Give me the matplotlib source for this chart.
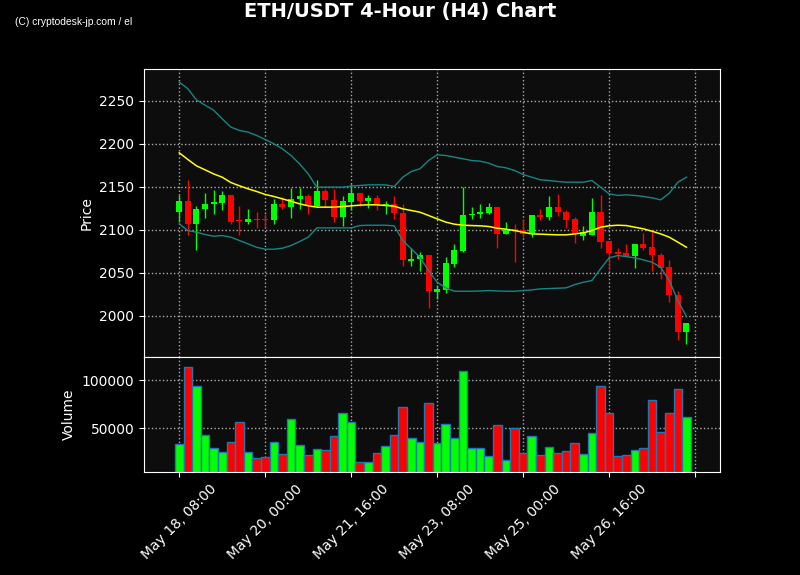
import numpy as np
import matplotlib
matplotlib.use('Agg')
import matplotlib.pyplot as plt

# candle data (4h candles, May 18 08:00 -> May 28 04:00)
opens = [2120.5, 2134.0, 2106.6, 2124.0, 2129.5, 2131.0, 2141.0, 2111.0, 2109.7, 2113.0,
         2112.0, 2111.2, 2130.0, 2127.0, 2135.7, 2138.8, 2128.3, 2145.7, 2135.0, 2114.7,
         2131.8, 2143.4, 2133.0, 2137.6, 2128.7, 2130.6, 2120.0, 2064.3, 2066.0, 2071.3,
         2027.5, 2030.6, 2060.0, 2076.0, 2117.0, 2118.2, 2120.0, 2126.0, 2095.3, 2101.0,
         2100.0, 2095.3, 2116.7, 2114.7, 2127.1, 2121.3, 2113.2, 2092.3, 2094.6, 2121.3,
         2087.6, 2074.8, 2073.6, 2069.4, 2084.1, 2080.6, 2071.3, 2057.4, 2024.8, 1981.0]
closes = [2134.1, 2106.6, 2124.8, 2130.6, 2131.8, 2141.0, 2109.7, 2110.5, 2113.0, 2111.2,
          2111.3, 2129.5, 2127.0, 2136.4, 2138.8, 2129.0, 2145.7, 2134.5, 2114.7, 2133.0,
          2143.4, 2133.0, 2137.6, 2129.5, 2130.6, 2119.4, 2064.7, 2066.7, 2071.3, 2028.7,
          2031.8, 2061.2, 2077.0, 2117.8, 2119.0, 2121.3, 2126.0, 2095.3, 2100.4, 2100.4,
          2095.7, 2116.7, 2114.7, 2127.1, 2120.5, 2112.0, 2095.3, 2097.3, 2121.3, 2086.4,
          2073.6, 2072.5, 2069.4, 2084.1, 2079.5, 2070.5, 2056.2, 2024.0, 1981.0, 1992.2]
highs = [2140.0, 2157.4, 2128.0, 2143.0, 2146.0, 2145.3, 2141.0, 2128.0, 2124.4, 2121.0,
         2118.6, 2136.0, 2138.0, 2148.4, 2148.4, 2142.0, 2157.4, 2147.7, 2147.7, 2138.8,
         2153.5, 2143.4, 2140.7, 2140.7, 2134.1, 2138.8, 2130.0, 2078.7, 2074.0, 2071.3,
         2036.0, 2068.2, 2083.7, 2149.6, 2127.0, 2130.0, 2131.4, 2127.1, 2109.3, 2106.6,
         2113.2, 2117.4, 2124.4, 2138.8, 2142.0, 2123.3, 2114.7, 2105.0, 2137.2, 2140.7,
         2087.6, 2079.0, 2083.7, 2084.1, 2096.0, 2098.4, 2073.6, 2065.5, 2028.7, 1992.2]
lows = [2109.0, 2094.0, 2076.7, 2114.0, 2118.6, 2123.0, 2107.0, 2094.0, 2107.0, 2102.3,
        2103.0, 2107.0, 2124.0, 2114.0, 2124.0, 2118.6, 2126.4, 2126.4, 2109.3, 2104.7,
        2122.5, 2128.3, 2125.6, 2122.5, 2118.6, 2112.8, 2058.5, 2058.0, 2052.0, 2009.3,
        2020.0, 2026.7, 2056.6, 2074.0, 2112.8, 2114.0, 2118.2, 2079.0, 2095.0, 2062.8,
        2091.5, 2091.5, 2111.6, 2111.6, 2116.0, 2102.3, 2085.0, 2088.4, 2094.6, 2079.0,
        2053.9, 2066.3, 2069.4, 2055.8, 2077.0, 2052.7, 2043.0, 2016.3, 1972.1, 1967.4]
volumes = [32990, 113190, 93400, 42360, 28820, 24660, 35070, 55900, 24660, 18410,
           19450, 35070, 22570, 59030, 31950, 21530, 27780, 26740, 41320, 65280,
           55900, 14240, 14240, 23610, 30900, 42360, 71530, 39240, 35070, 75700,
           34030, 53820, 39240, 109030, 28820, 28820, 20490, 52780, 16320, 49650,
           23610, 41320, 21530, 29860, 23610, 25690, 34030, 22570, 44440, 93400,
           65280, 20490, 21530, 26740, 28820, 78820, 45490, 65280, 90280, 61110]

# 20-period SMA and bollinger bands as drawn on the chart
sma = [2189.5, 2181.8, 2174.4, 2169.8, 2165.0, 2161.2, 2155.0, 2151.2, 2147.7, 2144.6,
       2141.1, 2138.8, 2136.0, 2133.3, 2130.2, 2128.0, 2126.4, 2126.4, 2126.4, 2127.1,
       2127.9, 2128.7, 2129.1, 2129.1, 2128.3, 2127.5, 2124.4, 2122.5, 2120.5, 2116.7,
       2112.8, 2109.0, 2106.6, 2105.4, 2105.0, 2104.7, 2103.9, 2101.9, 2100.8, 2099.2,
       2097.3, 2095.3, 2095.0, 2094.6, 2094.2, 2094.2, 2095.3, 2096.5, 2099.2, 2103.1,
       2104.7, 2105.4, 2105.0, 2103.1, 2101.2, 2098.4, 2095.3, 2091.5, 2085.7, 2079.8]
upper = [2271.7, 2264.0, 2251.0, 2245.0, 2239.0, 2229.0, 2219.4, 2215.5, 2213.6, 2209.7,
         2205.0, 2200.0, 2194.2, 2186.4, 2176.7, 2165.0, 2149.6, 2149.6, 2149.6, 2149.6,
         2150.8, 2151.6, 2152.3, 2152.3, 2152.3, 2150.4, 2161.2, 2167.8, 2171.0, 2180.6,
         2187.2, 2186.4, 2184.5, 2182.6, 2180.6, 2179.8, 2177.5, 2173.6, 2172.1, 2169.0,
         2164.3, 2161.2, 2158.1, 2157.4, 2156.2, 2155.4, 2155.4, 2155.4, 2157.4, 2149.6,
         2141.9, 2140.0, 2140.7, 2140.0, 2138.8, 2137.2, 2134.9, 2142.6, 2155.4, 2161.2]
lower = [2107.0, 2099.2, 2097.3, 2094.6, 2092.6, 2093.4, 2091.5, 2087.6, 2083.7, 2079.8,
         2077.5, 2077.5, 2078.7, 2081.8, 2086.4, 2091.5, 2102.3, 2102.3, 2102.3, 2102.3,
         2102.3, 2105.0, 2105.4, 2105.4, 2105.4, 2104.7, 2087.6, 2077.9, 2068.2, 2052.7,
         2039.1, 2032.6, 2028.7, 2028.7, 2028.7, 2029.0, 2029.5, 2029.0, 2028.7, 2028.7,
         2029.5, 2030.2, 2031.4, 2031.8, 2032.2, 2032.6, 2036.4, 2039.1, 2041.1, 2054.7,
         2067.4, 2070.2, 2069.0, 2067.4, 2065.1, 2062.4, 2056.6, 2041.1, 2017.8, 1999.2]

tick_labels = ['May 18, 08:00', 'May 20, 00:00', 'May 21, 16:00',
               'May 23, 08:00', 'May 25, 00:00', 'May 26, 16:00', '']

x = np.arange(len(opens))
o = np.array(opens)
c = np.array(closes)
up = c >= o
colors = np.where(up, '#00ff00', '#ff0000')

fig = plt.figure(figsize=(8, 5.75), dpi=100, facecolor='black')
ax1 = fig.add_axes([0.18, 0.379, 0.72, 0.501])
ax2 = fig.add_axes([0.18, 0.179, 0.72, 0.200], sharex=ax1)

for ax in (ax1, ax2):
    ax.set_facecolor('#0d0d0d')
    for s in ax.spines.values():
        s.set_color('white')
    ax.tick_params(colors='white', labelsize=10)
    ax.grid(True, linestyle=':', color='#aaaaaa', linewidth=1)
    ax.set_axisbelow(True)

# candles
ax1.vlines(x, lows, highs, color=colors, linewidth=1)
body = np.maximum(np.abs(c - o), 0.8)
ax1.bar(x, body, bottom=np.minimum(o, c), width=0.7, color=colors, linewidth=0)
ax1.plot(x, sma, color='yellow', linewidth=1.1)
ax1.plot(x, upper, color='#178585', linewidth=1)
ax1.plot(x, lower, color='#178585', linewidth=1)
ax1.set_ylabel('Price', color='white', fontsize=10)
ax1.tick_params(labelbottom=False)

# volume
ax2.bar(x, volumes, width=1.0, color=colors, edgecolor='#1f77b4', linewidth=1)
ax2.set_ylim(4200, 124000)
ax2.set_ylabel('Volume', color='white', fontsize=10)
ax2.set_yticks([50000, 100000])
ax2.set_xticks(range(0, 61, 10))
ax2.set_xticklabels(tick_labels, rotation=45)
ax2.set_xlim(-4.1, 62.9)

fig.suptitle('ETH/USDT 4-Hour (H4) Chart', color='white', fontsize=14,
             fontweight='bold', y=0.997)
fig.text(0.019, 0.957, '(C) cryptodesk-jp.com / el', color='white', fontsize=7.4,
         family='Liberation Sans')

plt.savefig('out.png', facecolor='black')
